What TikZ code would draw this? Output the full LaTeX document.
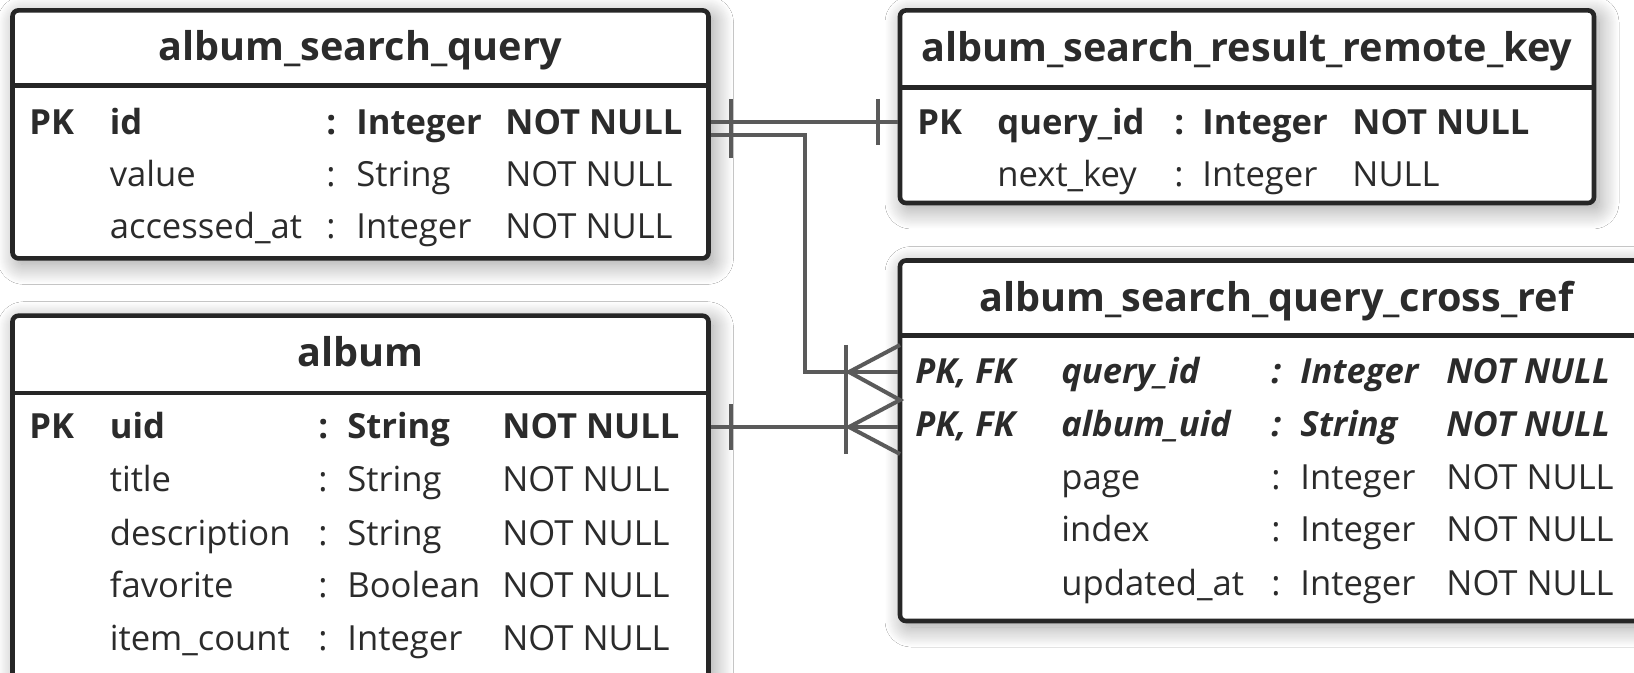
\documentclass[tikz,border=0pt]{standalone}
\usepackage{fontspec}
\setmainfont{Open Sans}
\usetikzlibrary{fit,shadows.blur}
\definecolor{ink}{HTML}{2B2B2B}
\definecolor{edge}{HTML}{262626}
\definecolor{link}{HTML}{5A5A5A}
\tikzset{
  tablebox/.style={draw=edge, line width=2.3pt, rounded corners=3pt, fill=white, inner sep=0pt,
    blur shadow={shadow xshift=2.5pt, shadow yshift=-3pt, shadow blur radius=10pt,
      shadow blur steps=20, shadow opacity=40}},
  tabletitle/.style={anchor=base, inner sep=0pt, text=ink, font=\fontsize{19.8}{22}\selectfont\bfseries},
  cell/.style={anchor=base west, inner sep=0pt, text=ink, font=\fontsize{17.3}{19}\selectfont},
  pkcell/.style={cell, font=\fontsize{17.3}{19}\selectfont\bfseries},
  fkcell/.style={cell, font=\fontsize{17.3}{19}\selectfont\bfseries\itshape},
  rel/.style={draw=link, line width=2pt},
}
\begin{document}
\begin{tikzpicture}[x=0.5pt, y=-0.5pt]
    \useasboundingbox[fill=white] (0,0) rectangle (1634,673);

    % tables
    \node[tablebox, fit={(12.5,10.4) (708.5,258.4)}] (asq) {};
    \node[tablebox, fit={(12.5,315.7) (708.5,720)}] (album) {};
    \node[tablebox, fit={(900,10.4) (1594,203)}] (rkey) {};
    \node[tablebox, fit={(900,260.5) (1680,621)}] (xref) {};

    \draw[edge, line width=2.3pt] (12.5,85.5) -- (708.5,85.5);
    \draw[edge, line width=2.3pt] (12.5,393) -- (708.5,393);
    \draw[edge, line width=2.3pt] (900,87.5) -- (1594,87.5);
    \draw[edge, line width=2.3pt] (900,335.5) -- (1680,335.5);

    % album_search_query
    \node[tabletitle] (asq-title) at (360.5,61) {album\_search\_query};
    \node[pkcell] (asq-pk) at (29,135) {PK};
    \node[pkcell] (asq-id) at (109.4,135) {id};
    \node[pkcell] (asq-id-c) at (326,135) {:};
    \node[pkcell] (asq-id-t) at (356,135) {Integer};
    \node[pkcell] (asq-id-n) at (505,135) {NOT NULL};
    \node[cell] (asq-value) at (109.4,187) {value};
    \node[cell] (asq-value-c) at (326,187) {:};
    \node[cell] (asq-value-t) at (356,187) {String};
    \node[cell] (asq-value-n) at (505,187) {NOT NULL};
    \node[cell] (asq-acc) at (109.4,239) {accessed\_at};
    \node[cell] (asq-acc-c) at (326,239) {:};
    \node[cell] (asq-acc-t) at (356,239) {Integer};
    \node[cell] (asq-acc-n) at (505,239) {NOT NULL};

    % album
    \node[tabletitle] (album-title) at (360.5,367) {album};
    \node[pkcell] (album-pk) at (29,439) {PK};
    \node[pkcell] (album-uid) at (109.4,439) {uid};
    \node[pkcell] (album-uid-c) at (318,439) {:};
    \node[pkcell] (album-uid-t) at (347,439) {String};
    \node[pkcell] (album-uid-n) at (502,439) {NOT NULL};
    \node[cell] (album-title-f) at (109.4,492) {title};
    \node[cell] (album-title-c) at (318,492) {:};
    \node[cell] (album-title-t) at (347,492) {String};
    \node[cell] (album-title-n) at (502,492) {NOT NULL};
    \node[cell] (album-desc) at (109.4,545.5) {description};
    \node[cell] (album-desc-c) at (318,545.5) {:};
    \node[cell] (album-desc-t) at (347,545.5) {String};
    \node[cell] (album-desc-n) at (502,545.5) {NOT NULL};
    \node[cell] (album-fav) at (109.4,597.6) {favorite};
    \node[cell] (album-fav-c) at (318,597.6) {:};
    \node[cell] (album-fav-t) at (347,597.6) {Boolean};
    \node[cell] (album-fav-n) at (502,597.6) {NOT NULL};
    \node[cell] (album-cnt) at (109.4,650.7) {item\_count};
    \node[cell] (album-cnt-c) at (318,650.7) {:};
    \node[cell] (album-cnt-t) at (347,650.7) {Integer};
    \node[cell] (album-cnt-n) at (502,650.7) {NOT NULL};

    % album_search_result_remote_key
    \node[tabletitle] (rkey-title) at (1247,62) {album\_search\_result\_remote\_key};
    \node[pkcell] (rkey-pk) at (917,135) {PK};
    \node[pkcell] (rkey-qid) at (997,135) {query\_id};
    \node[pkcell] (rkey-qid-c) at (1174,135) {:};
    \node[pkcell] (rkey-qid-t) at (1202,135) {Integer};
    \node[pkcell] (rkey-qid-n) at (1352,135) {NOT NULL};
    \node[cell] (rkey-next) at (997,187) {next\_key};
    \node[cell] (rkey-next-c) at (1174,187) {:};
    \node[cell] (rkey-next-t) at (1202,187) {Integer};
    \node[cell] (rkey-next-n) at (1352,187) {NULL};

    % album_search_query_cross_ref
    \node[tabletitle] (xref-title) at (1276.5,312) {album\_search\_query\_cross\_ref};
    \node[fkcell] (xref-pk1) at (915,384) {PK, FK};
    \node[fkcell] (xref-qid) at (1061,384) {query\_id};
    \node[fkcell] (xref-qid-c) at (1271,384) {:};
    \node[fkcell] (xref-qid-t) at (1300,384) {Integer};
    \node[fkcell] (xref-qid-n) at (1446,384) {NOT NULL};
    \node[fkcell] (xref-pk2) at (915,437) {PK, FK};
    \node[fkcell] (xref-uid) at (1061,437) {album\_uid};
    \node[fkcell] (xref-uid-c) at (1271,437) {:};
    \node[fkcell] (xref-uid-t) at (1300,437) {String};
    \node[fkcell] (xref-uid-n) at (1446,437) {NOT NULL};
    \node[cell] (xref-page) at (1061,490) {page};
    \node[cell] (xref-page-c) at (1271,490) {:};
    \node[cell] (xref-page-t) at (1300,490) {Integer};
    \node[cell] (xref-page-n) at (1446,490) {NOT NULL};
    \node[cell] (xref-idx) at (1061,542) {index};
    \node[cell] (xref-idx-c) at (1271,542) {:};
    \node[cell] (xref-idx-t) at (1300,542) {Integer};
    \node[cell] (xref-idx-n) at (1446,542) {NOT NULL};
    \node[cell] (xref-upd) at (1061,595.5) {updated\_at};
    \node[cell] (xref-upd-c) at (1271,595.5) {:};
    \node[cell] (xref-upd-t) at (1300,595.5) {Integer};
    \node[cell] (xref-upd-n) at (1446,595.5) {NOT NULL};

    % relations
    \draw[rel] (asq.east |- 0,122) -- (rkey.west |- 0,122);
    \draw[rel] (asq.east |- 0,135) -| (805,372) -- (xref.west |- 0,372);
    \draw[rel] (album.east |- 0,427) -- (xref.west |- 0,427);

    \draw[rel] (731,99) -- (731,158);
    \draw[rel] (878,99) -- (878,145);
    \draw[rel] (731,404) -- (731,450);
    \draw[rel] (846,345) -- (846,454);
    \draw[rel] (900,345) -- (849,372) -- (900,400) -- (849,427) -- (900,454);
\end{tikzpicture}
\end{document}
